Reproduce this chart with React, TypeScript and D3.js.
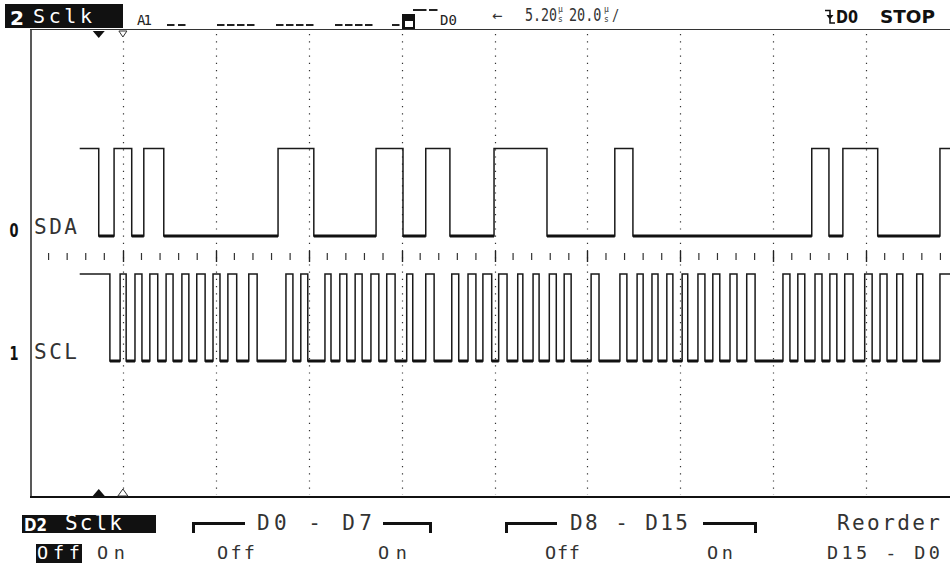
import React from 'react';
import * as d3 from 'd3';

// ---- data (µs, trigger at t = 0, 20 µs/div, reference 5.20 µs) ----
const timeDomain = [-14.8, 185.2];
const captureStart = -4.1;
const gridTimes = d3.range(0, 9).map((k) => 5.2 + 20 * k);
const minorTimes = d3.range(1, 50).filter((k) => k % 5 !== 0).map((k) => -14.8 + 4 * k);
const majorTimes = d3.range(1, 10).map((k) => -14.8 + 20 * k);

const sdaInitial = 1;
const sdaEdges = [0.0, 3.3, 7.1, 9.7, 14.0, 38.6, 46.3, 59.7, 65.5, 70.4, 75.6, 85.1, 96.5, 111.1, 115.0, 153.5, 157.2, 160.2, 167.7, 181.1];

const sclInitial = 1;
const sclEdges = [
  2.4,
  4.6, 5.9, 7.8, 9.3, 11.0, 12.7, 14.5, 16.0, 17.9, 19.4, 21.1, 22.9, 24.6, 26.1, 27.8, 29.7, 32.3, 34.1,
  40.3, 41.8, 43.5, 45.0, 48.7, 50.0, 51.9, 53.4, 55.2, 56.7, 58.6, 60.3, 62.0, 63.8, 66.3, 67.6, 70.4, 72.2,
  76.0, 77.5, 79.5, 81.2, 82.7, 84.6, 86.1, 87.9, 90.2, 91.3, 93.5, 94.8, 97.0, 98.5, 100.2, 101.7, 106.0, 107.7,
  112.2, 113.7, 115.9, 117.2, 119.1, 120.4, 122.3, 123.6, 125.6, 126.8, 129.0, 130.5, 132.2, 133.7, 135.9, 137.4, 139.5, 141.3,
  147.3, 148.8, 150.5, 152.0, 154.2, 155.7, 157.4, 158.9, 160.6, 162.4, 164.9, 166.5, 168.2, 169.7, 171.8, 173.1, 176.1, 177.4,
  181.1,
];

const channelIds = ['0', '1'];
const channelNames = ['SDA', 'SCL'];

// activity indicator: A-group (2), then D15..D0 in groups of 4
const activityGroups = [
  ['lo', 'lo'],
  ['lo', 'lo', 'lo', 'lo'],
  ['lo', 'lo', 'lo', 'lo'],
  ['lo', 'lo', 'lo', 'lo'],
  ['lo', 'tr', 'hi', 'hi'],
];

const LCD = "'DejaVu Sans Mono', monospace";
const BOLD = "'DejaVu Sans', sans-serif";

function T(props: any) {
  const { x, y, w, size = 21, fill = '#333', bold = false, children, adj = 'spacing', family } = props;
  return (
    <text
      x={x}
      y={y}
      fontSize={size}
      fill={fill}
      fontFamily={family || (bold ? BOLD : LCD)}
      fontWeight={bold ? 'bold' : 'normal'}
      textLength={w}
      lengthAdjust={adj}
    >
      {children}
    </text>
  );
}

// vertically stretched small LCD text (keeps natural width small)
function TS(props: any) {
  const { x, y, size, sy = 1.3, children } = props;
  return (
    <text
      transform={`translate(${x},${y}) scale(1,${sy})`}
      fontSize={size}
      fill="#333"
      fontFamily={LCD}
    >
      {children}
    </text>
  );
}

function Unit(props: any) {
  const { x } = props;
  return (
    <g>
      <text x={x} y={12} fontFamily={LCD} fontSize={8} fill="#333">µ</text>
      <text x={x} y={22} fontFamily={LCD} fontSize={8} fill="#333">s</text>
    </g>
  );
}

function buildPoints(initial: number, edges: number[]) {
  let lvl = initial;
  const pts: [number, number][] = [[captureStart, lvl]];
  edges.forEach((t) => {
    lvl = 1 - lvl;
    pts.push([t, lvl]);
  });
  pts.push([timeDomain[1], lvl]);
  return pts;
}

export default function App() {
  const W = 950;
  const H = 563;
  const x = d3.scaleLinear().domain(timeDomain).range([30, 959]);
  const plotTop = 30;
  const plotBottom = 497;

  const levels = [
    { hi: 148.5, lo: 236, initial: sdaInitial, edges: sdaEdges, labelY: 237, nameY: 234 },
    { hi: 274, lo: 361, initial: sclInitial, edges: sclEdges, labelY: 360, nameY: 359 },
  ];

  const traces = levels.map((c) => {
    const pts = buildPoints(c.initial, c.edges);
    const y = d3.scaleLinear().domain([0, 1]).range([c.lo, c.hi]);
    const line = d3
      .line<[number, number]>()
      .x((d) => x(d[0]))
      .y((d) => y(d[1]))
      .curve(d3.curveStepAfter);
    const lows: [number, number][] = [];
    for (let i = 0; i < pts.length - 1; i++) {
      if (pts[i][1] === 0) lows.push([x(pts[i][0]), x(pts[i + 1][0])]);
    }
    return { d: line(pts) as string, lows, lo: c.lo };
  });

  // activity indicator layout
  const groupStarts = [167, 217, 276, 335, 392];
  const slotPitch = [11, 10, 10, 10, 11];
  const lastGroupX = [392, 402, 418, 429];

  const trigX = x(0);
  const refX = x(5.2);

  return (
    <svg
      width={W}
      height={H}
      style={{ position: 'absolute', left: 0, top: 0, background: '#fff' }}
    >
      <rect x={0} y={0} width={W} height={H} fill="#fff" />

      {/* grid: dotted verticals */}
      {gridTimes.map((t, i) => (
        <line
          key={'g' + i}
          x1={Math.round(x(t)) + 0.5}
          x2={Math.round(x(t)) + 0.5}
          y1={plotTop + 4}
          y2={plotBottom - 2}
          stroke="#333"
          strokeWidth={1.2}
          strokeDasharray="1.2,6"
        />
      ))}

      {/* tick row between channels */}
      {minorTimes.map((t, i) => (
        <line key={'m' + i} x1={x(t)} x2={x(t)} y1={253} y2={260} stroke="#333" strokeWidth={1.2} />
      ))}
      {majorTimes.map((t, i) => (
        <line key={'M' + i} x1={Math.round(x(t)) + 0.5} x2={Math.round(x(t)) + 0.5} y1={251} y2={262} stroke="#222" strokeWidth={1.4} />
      ))}

      {/* frame */}
      <line x1={31} x2={31} y1={plotTop} y2={plotBottom} stroke="#222" strokeWidth={1.5} />
      <line x1={30} x2={W} y1={plotBottom} y2={plotBottom} stroke="#111" strokeWidth={2} />
      <line x1={30} x2={W} y1={29.5} y2={29.5} stroke="#333" strokeWidth={1} />

      {/* traces */}
      {traces.map((tr, i) => (
        <g key={'tr' + i}>
          <path d={tr.d} fill="none" stroke="#1a1a1a" strokeWidth={1.5} />
          {tr.lows.map((s, j) => (
            <line key={j} x1={s[0]} x2={s[1]} y1={tr.lo} y2={tr.lo} stroke="#111" strokeWidth={3} />
          ))}
        </g>
      ))}

      {/* channel labels */}
      {levels.map((c, i) => (
        <g key={'lab' + i}>
          <T x={9.5} y={c.labelY} w={9} size={20} bold adj="spacingAndGlyphs" fill="#111">
            {channelIds[i]}
          </T>
          <T x={34} y={c.nameY} w={43} size={21}>
            {channelNames[i]}
          </T>
        </g>
      ))}

      {/* trigger / reference markers */}
      <path d={`M${trigX - 6},${plotTop + 1} L${trigX + 6},${plotTop + 1} L${trigX},${plotTop + 8} Z`} fill="#111" />
      <path d={`M${refX - 4},${plotTop + 1} L${refX + 4},${plotTop + 1} L${refX},${plotTop + 7} Z`} fill="#fff" stroke="#333" strokeWidth={1} />
      <path d={`M${trigX - 6},${plotBottom - 1} L${trigX + 6},${plotBottom - 1} L${trigX},${plotBottom - 8} Z`} fill="#111" />
      <path d={`M${refX - 5},${plotBottom - 1} L${refX + 5},${plotBottom - 1} L${refX},${plotBottom - 8} Z`} fill="#fff" stroke="#333" strokeWidth={1} />

      {/* top status bar */}
      <rect x={5} y={4} width={118} height={24} fill="#111" />
      <T x={10} y={25} w={14} size={20} bold fill="#fff" adj="spacingAndGlyphs">2</T>
      <T x={33} y={23} w={59} size={20} fill="#fff">Sclk</T>
      <T x={137} y={25} w={15} size={14} fill="#222">A1</T>

      {activityGroups.map((g, gi) =>
        g.map((s, si) => {
          const sx = gi === 4 ? lastGroupX[si] : groupStarts[gi] + si * slotPitch[gi];
          if (s === 'lo') return <rect key={gi + '-' + si} x={sx} y={24} width={7.5} height={2} fill="#222" />;
          if (s === 'hi') return <rect key={gi + '-' + si} x={sx} y={9} width={8.5} height={2} fill="#222" />;
          return (
            <g key={gi + '-' + si}>
              <rect x={sx} y={14} width={13} height={15} fill="#111" />
              <rect x={sx + 3} y={21} width={8} height={6} fill="#fff" />
              <rect x={sx + 11} y={9} width={5} height={2} fill="#222" />
            </g>
          );
        })
      )}
      <T x={440} y={25} w={17} size={14} fill="#222">D0</T>

      <TS x={492} y={21} size={17} sy={1.0}>←</TS>
      <TS x={525} y={21} size={13.3} sy={1.28}>5.20</TS>
      <Unit x={558} />
      <TS x={569} y={21} size={13.5} sy={1.26}>20.0</TS>
      <Unit x={604} />
      <TS x={612} y={21} size={12} sy={1.3}>/</TS>

      {/* trigger edge symbol */}
      <path d="M825,10.5 H830 V23 H835" fill="none" stroke="#111" strokeWidth={1.6} />
      <path d="M826.5,15 L833.5,15 L830,19.5 Z" fill="#111" />
      <T x={836} y={23} w={22} size={18} bold fill="#111" adj="spacingAndGlyphs">D0</T>
      <T x={880} y={23} w={55} size={18} bold fill="#111" adj="spacingAndGlyphs">STOP</T>

      {/* bottom softkey menu */}
      <rect x={22} y={515} width={134} height={18} fill="#111" />
      <T x={24} y={531} w={23} size={18} bold fill="#fff" adj="spacingAndGlyphs">D2</T>
      <T x={65} y={530} w={57} size={21} fill="#fff">Sclk</T>
      <rect x={36} y={544} width={46} height={19} fill="#111" />
      <T x={37} y={558.5} w={43} size={18.5} fill="#fff">Off</T>
      <T x={97} y={558.5} w={28} size={18.5}>On</T>

      <path d="M193.5,533 V523.5 H245" fill="none" stroke="#111" strokeWidth={3} />
      <path d="M383,523.5 H430.5 V533" fill="none" stroke="#111" strokeWidth={3} />
      <T x={257} y={530} w={115} size={21}>D0 - D7</T>
      <T x={217} y={558.5} w={38} size={18.5}>Off</T>
      <T x={378} y={558.5} w={29} size={18.5}>On</T>

      <path d="M506.5,533 V523.5 H557" fill="none" stroke="#111" strokeWidth={3} />
      <path d="M703,523.5 H755.5 V533" fill="none" stroke="#111" strokeWidth={3} />
      <T x={570} y={530} w={118} size={21}>D8 - D15</T>
      <T x={545} y={558.5} w={35} size={18.5}>Off</T>
      <T x={707} y={558.5} w={26} size={18.5}>On</T>

      <T x={837} y={530} w={103} size={21}>Reorder</T>
      <T x={827} y={558.5} w={113} size={18.5}>D15 - D0</T>
    </svg>
  );
}
